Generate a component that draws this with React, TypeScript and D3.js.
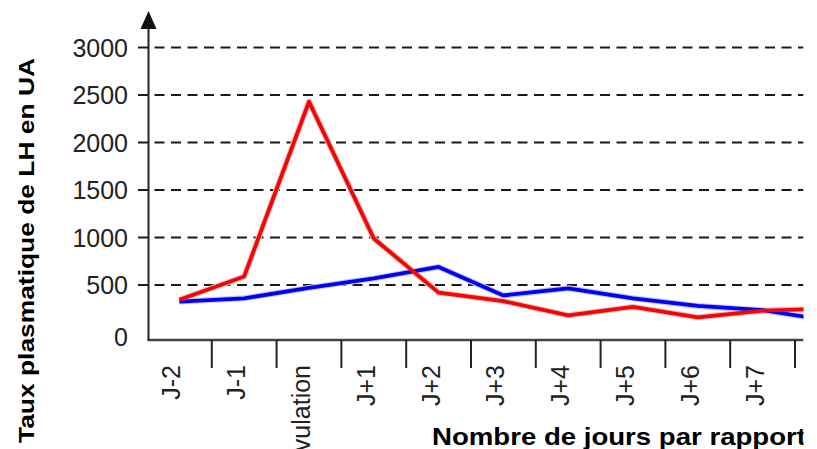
import React from "react";
import * as d3 from "d3";

const categories = ["J-2", "J-1", "ovulation", "J+1", "J+2", "J+3", "J+4", "J+5", "J+6", "J+7", "J+8"];
const redValues = [345, 590, 2430, 990, 420, 330, 180, 270, 160, 230, 250];
const blueValues = [325, 360, 470, 570, 690, 390, 465, 360, 280, 235, 130];
const yTicks = [0, 500, 1000, 1500, 2000, 2500, 3000];
const yTitle = "Taux plasmatique de LH en UA";
const xTitle = "Nombre de jours par rapport à l'ovulation";

const W = 817;
const H = 449;
const FONT = "'Liberation Sans', Arial, Helvetica, sans-serif";

export default function App() {
  const axisX = 148.5;
  const axisY = 340;
  const clipRight = 803.5;

  const x = d3.scaleBand<string>().domain(categories).range([147, 147 + 64.8 * categories.length]).padding(0);
  const y = d3.scaleLinear().domain([0, 3000]).range([332.5, 47.5]);
  const cx = (c: string) => (x(c) as number) + x.bandwidth() / 2;

  const line = d3
    .line<number>()
    .x((_, i) => cx(categories[i]))
    .y((v) => y(v));

  return (
    <svg
      width={W}
      height={H}
      viewBox={`0 0 ${W} ${H}`}
      style={{ position: "absolute", left: 0, top: 0, background: "#fff" }}
    >
      <defs>
        <clipPath id="clipR">
          <rect x={0} y={0} width={clipRight} height={H} />
        </clipPath>
      </defs>
      <rect x={0} y={0} width={W} height={H} fill="#fff" />
      <g clipPath="url(#clipR)">
        {/* grid lines */}
        {yTicks
          .filter((v) => v > 0)
          .map((v) => (
            <line
              key={"g" + v}
              x1={138}
              x2={clipRight}
              y1={y(v)}
              y2={y(v)}
              stroke="#1a1a1a"
              strokeWidth={2}
              strokeDasharray="10,6.5"
            />
          ))}
        {/* y tick labels */}
        {yTicks.map((v) => (
          <text
            key={"t" + v}
            x={128}
            y={v === 0 ? axisY - 3 : y(v)}
            textAnchor="end"
            dominantBaseline="central"
            fontFamily={FONT}
            fontSize={25}
            fill="#222"
          >
            {v}
          </text>
        ))}
        {/* x axis */}
        <line x1={axisX - 1} x2={clipRight} y1={axisY} y2={axisY} stroke="#444" strokeWidth={2.6} />
        {categories.map((c) => (
          <line
            key={"xt" + c}
            x1={(x(c) as number) + x.bandwidth()}
            x2={(x(c) as number) + x.bandwidth()}
            y1={axisY}
            y2={368}
            stroke="#222"
            strokeWidth={2}
          />
        ))}
        {categories
          .filter((c) => cx(c) < clipRight)
          .map((c) => (
            <text
              key={"xl" + c}
              transform={`translate(${cx(c) - 8},365) rotate(-90)`}
              textAnchor="end"
              dominantBaseline="central"
              fontFamily={FONT}
              fontSize={25}
              fill="#222"
            >
              {c}
            </text>
          ))}
        {/* y axis */}
        <line x1={axisX} x2={axisX} y1={axisY} y2={26} stroke="#222" strokeWidth={2} />
        <path d={`M${axisX},11 L${axisX - 8},29 L${axisX + 8},29 Z`} fill="#111" />
        {/* series halos */}
        <path d={line(blueValues) || ""} fill="none" stroke="#c8c8d8" strokeWidth={6} strokeLinejoin="round" />
        <path d={line(redValues) || ""} fill="none" stroke="#d8c8c8" strokeWidth={6} strokeLinejoin="round" />
        {/* series */}
        <path d={line(blueValues) || ""} fill="none" stroke="#0000ff" strokeWidth={3.8} strokeLinejoin="round" />
        <path d={line(redValues) || ""} fill="none" stroke="#ff0000" strokeWidth={3.8} strokeLinejoin="round" />
        {/* titles */}
        <text
          transform={`translate(432,445) scale(1.2,1)`}
          fontFamily={FONT}
          fontWeight="bold"
          fontSize={23}
          fill="#000"
        >
          {xTitle}
        </text>
        <text
          transform={`translate(34,443) rotate(-90) scale(1.2,1)`}
          fontFamily={FONT}
          fontWeight="bold"
          fontSize={22}
          fill="#000"
        >
          {yTitle}
        </text>
      </g>
    </svg>
  );
}
